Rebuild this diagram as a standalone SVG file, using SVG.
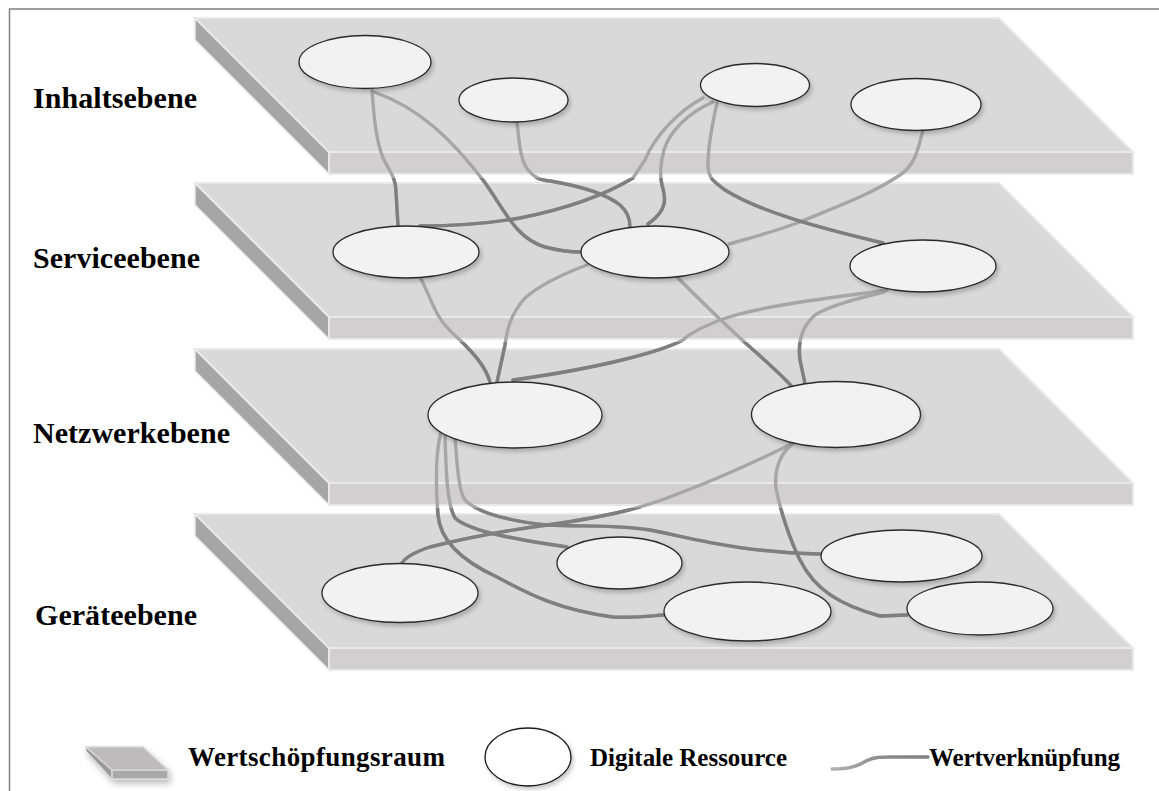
<svg xmlns="http://www.w3.org/2000/svg" width="1159" height="791" viewBox="0 0 1159 791">
<defs>
<style>
.top{fill:#d9d9d9;stroke:#e9e9e9;stroke-width:2}
.front{fill:#d1cfcf;stroke:#e9e9e9;stroke-width:2}
.side{fill:#a6a6a6;stroke:#e9e9e9;stroke-width:1.5}
.res{fill:#f2f2f2;stroke:#2b2b2b;stroke-width:1.3;filter:url(#sh)}
.lbl{font-family:"Liberation Serif","Times New Roman",serif;font-weight:bold;fill:#000}
.lt{fill:none;stroke:#a6a6a6;stroke-width:3.4;stroke-linecap:round}
.dk{fill:none;stroke:#7f7f7f;stroke-width:3.4;stroke-linecap:round}
</style>
<filter id="sh" x="-20%" y="-30%" width="150%" height="170%">
<feDropShadow dx="2" dy="3" stdDeviation="2.2" flood-color="#000" flood-opacity="0.22"/>
</filter>
<filter id="sh2" x="-30%" y="-30%" width="170%" height="190%">
<feDropShadow dx="2" dy="4" stdDeviation="3" flood-color="#000" flood-opacity="0.25"/>
</filter>
<g id="slab">
<polygon class="side" points="195,18 329,152 329,174 195,40"/>
<rect class="front" x="329" y="152" width="804" height="22"/>
<polygon class="top" points="195,18 999,18 1133,152 329,152"/>
</g>
<clipPath id="cA"><rect x="0" y="178" width="1159" height="613"/></clipPath>
<clipPath id="cB"><rect x="0" y="342" width="1159" height="449"/></clipPath>
<clipPath id="cC"><rect x="0" y="508" width="1159" height="283"/></clipPath>
<linearGradient id="lg" x1="0" y1="0" x2="1" y2="0">
<stop offset="0" stop-color="#b0b0b0"/>
<stop offset="0.5" stop-color="#8c8c8c"/>
<stop offset="1" stop-color="#808080"/>
</linearGradient>
<path id="c1" d="M372,90 C374,118 376,140 383,158 C390,172 396,178 396,192 L398,226"/>
<path id="c2" d="M374,92 C420,108 452,140 483,180 C505,210 515,238 545,247 C560,251 570,252 581,252"/>
<path id="c3" d="M517,122 C519,140 520,160 528,170 C535,178 540,180 550,181 C580,186 605,193 620,205 C628,212 630,220 630,227"/>
<path id="c4" d="M703,98 C680,110 655,135 645,160 L633,178 C600,198 560,210 520,218 C480,225 450,226 420,226"/>
<path id="c5" d="M713,102 C690,112 670,130 664,150 C660,165 660,177 662,185 C666,198 668,210 648,224"/>
<path id="c6" d="M717,103 C712,125 708,150 708,165 C708,178 714,182 725,190 C760,212 820,228 883,243"/>
<path id="c8" d="M420,277 C428,292 432,305 438,315 C445,328 455,335 462,342 C472,352 485,365 490,382"/>
<path id="c9" d="M587,265 C560,275 540,285 525,298 C510,315 507,330 505,345 L497,382"/>
<path id="c10" d="M887,290 C840,297 760,305 720,320 C700,328 690,333 683,340 C660,352 600,368 513,380"/>
<path id="c11" d="M678,278 C700,300 725,325 750,347 C770,365 785,378 793,388"/>
<path id="c12" d="M884,292 C860,298 830,305 815,315 C800,328 798,345 800,360 C802,370 804,378 805,384"/>
<path id="c13" d="M455,438 C457,460 458,490 465,500 C475,510 500,520 547,525 C580,527 613,524 650,530 C700,540 740,552 820,554"/>
<path id="c14" d="M445,435 C446,470 447,505 455,518 C470,532 520,540 567,547"/>
<path id="c15" d="M441,432 C435,455 436,490 438,515 C440,540 460,560 497,577 C530,595 560,610 613,617 C635,618 650,616 663,615"/>
<path id="c16" d="M795,442 C770,455 720,478 680,493 C650,505 620,515 547,525 C510,530 470,537 430,547 C415,552 405,558 402,563"/>
<path id="c17" d="M795,442 C780,452 774,470 776,488 C780,510 790,540 800,560 C815,590 840,605 880,616 L907,615"/>
</defs>
<rect width="1159" height="791" fill="#fff"/>
<path d="M9.5,791 V9 H1159" fill="none" stroke="#7f7f7f" stroke-width="1.5"/>

<g id="layer-inhalt"><use href="#slab"/><text class="lbl" x="33" y="108" font-size="30" textLength="164">Inhaltsebene</text></g>
<g id="layer-service"><use href="#slab" y="165"/><text class="lbl" x="33" y="268" font-size="30" textLength="167">Serviceebene</text></g>
<g id="layer-netzwerk"><use href="#slab" y="331"/><text class="lbl" x="33" y="443" font-size="30" textLength="197">Netzwerkebene</text></g>
<g id="layer-geraete"><use href="#slab" y="496"/><text class="lbl" x="35" y="625" font-size="30" textLength="162">Geräteebene</text></g>

<g id="connectors">
<g class="lt">
<use href="#c1"/><use href="#c2"/><use href="#c3"/><use href="#c4"/><use href="#c5"/><use href="#c6"/>
<use href="#c8"/><use href="#c9"/><use href="#c10"/><use href="#c11"/><use href="#c12"/>
<use href="#c13"/><use href="#c14"/><use href="#c15"/><use href="#c16"/><use href="#c17"/>
<path d="M923,130 C918,150 915,165 900,175 C870,195 840,205 800,222 C770,233 750,238 729,244"/>
</g>
<g class="dk" clip-path="url(#cA)">
<use href="#c1"/><use href="#c2"/><use href="#c3"/><use href="#c4"/><use href="#c5"/><use href="#c6"/>
</g>
<g class="dk" clip-path="url(#cB)">
<use href="#c8"/><use href="#c9"/><use href="#c10"/><use href="#c11"/><use href="#c12"/>
</g>
<g class="dk" clip-path="url(#cC)">
<use href="#c13"/><use href="#c14"/><use href="#c15"/><use href="#c16"/><use href="#c17"/>
</g>
</g>

<g id="res-inhalt">
<ellipse id="e1" class="res" cx="365" cy="62" rx="66" ry="26.5"/>
<ellipse id="e2" class="res" cx="513.5" cy="100" rx="54.5" ry="22"/>
<ellipse id="e3" class="res" cx="755" cy="85" rx="54.5" ry="21.5"/>
<ellipse id="e4" class="res" cx="916" cy="104.5" rx="65" ry="26"/>
</g>
<g id="res-service">
<ellipse id="s1" class="res" cx="406" cy="252" rx="73" ry="26"/>
<ellipse id="s2" class="res" cx="655" cy="252" rx="74" ry="26"/>
<ellipse id="s3" class="res" cx="923" cy="266" rx="73" ry="26"/>
</g>
<g id="res-netzwerk">
<ellipse id="n1" class="res" cx="515" cy="415" rx="87" ry="33"/>
<ellipse id="n2" class="res" cx="836" cy="414.5" rx="84.5" ry="33"/>
</g>
<g id="res-geraete">
<ellipse id="d1" class="res" cx="400" cy="593" rx="78" ry="29.5"/>
<ellipse id="d2" class="res" cx="619.5" cy="563" rx="62.5" ry="26"/>
<ellipse id="d3" class="res" cx="747.5" cy="611.5" rx="83.5" ry="29.5"/>
<ellipse id="d4" class="res" cx="901.5" cy="556" rx="80.5" ry="26"/>
<ellipse id="d5" class="res" cx="980" cy="608.5" rx="73" ry="26.5"/>
</g>

<g id="legend">
<g id="legend-raum">
<g filter="url(#sh2)">
<polygon points="86,747 112,770 112,779 86,751" fill="#9a9a9a" stroke="#dcdcdc" stroke-width="1"/>
<rect x="112" y="770" width="56" height="9" fill="#a9a9a9" stroke="#dcdcdc" stroke-width="1.5"/>
<polygon points="86,747 143,747 168,770 112,770" fill="#bdbbbb" stroke="#d6d6d6" stroke-width="1.5"/>
</g>
<text class="lbl" x="188" y="766" font-size="27" textLength="257">Wertschöpfungsraum</text>
</g>
<g id="legend-ressource">
<ellipse cx="528" cy="757" rx="43" ry="29" fill="#fff" stroke="#1a1a1a" stroke-width="1.3" filter="url(#sh)"/>
<text class="lbl" x="590" y="766" font-size="25" textLength="197">Digitale Ressource</text>
</g>
<g id="legend-verknuepfung">
<path d="M832,769 C850,769 858,766 866,761 C874,757 880,757 890,757 L928,757" fill="none" stroke="url(#lg)" stroke-width="3.4" stroke-linecap="round"/>
<text class="lbl" x="929" y="766" font-size="25" textLength="191">Wertverknüpfung</text>
</g>
</g>
</svg>
